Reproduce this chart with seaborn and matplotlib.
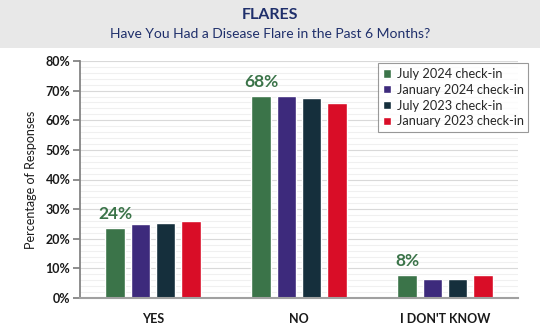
import matplotlib
matplotlib.use("Agg")
import matplotlib.pyplot as plt
import seaborn as sns
import pandas as pd
from matplotlib.patches import Rectangle
from matplotlib.ticker import MultipleLocator, FuncFormatter

categories = ["YES", "NO", "I DON'T KNOW"]
series = ["July 2024 check-in", "January 2024 check-in", "July 2023 check-in", "January 2023 check-in"]
jul2024 = [23.7, 68.2, 7.8]
jan2024 = [24.9, 68.2, 6.3]
jul2023 = [25.4, 67.6, 6.3]
jan2023 = [26.1, 65.8, 7.9]
labels = ["24%", "68%", "8%"]
colors = ["#3b7449", "#3d2a7c", "#152f3c", "#d90d27"]

rows = []
for s, vals in zip(series, [jul2024, jan2024, jul2023, jan2023]):
    for c, v in zip(categories, vals):
        rows.append({"cat": c, "series": s, "val": v})
df = pd.DataFrame(rows)

sns.set_theme(style="white")
plt.rcParams["font.family"] = ["Lato", "DejaVu Sans"]

fig = plt.figure(figsize=(5.4, 3.31), dpi=100)
fig.patch.set_facecolor("white")
fig.patches.append(Rectangle((0, 1 - 48 / 331), 1, 48 / 331, transform=fig.transFigure,
                             facecolor="#e8e8e8", edgecolor="none", zorder=0))
ax = fig.add_axes([80 / 540, 1 - 298 / 331, 438 / 540, 237 / 331])

sns.barplot(data=df, x="cat", y="val", hue="series", hue_order=series, order=categories,
            palette=colors, width=0.69, gap=0.22, ax=ax, saturation=1, legend=True)

ax.set_ylim(0, 80)
ax.set_xlim(-0.5, 2.5)
ax.yaxis.set_major_locator(MultipleLocator(10))
ax.yaxis.set_minor_locator(MultipleLocator(2))
ax.yaxis.set_major_formatter(FuncFormatter(lambda v, p: f"{int(v)}%"))
ax.grid(axis="y", which="major", color="#d9d9d9", linewidth=0.8)
ax.grid(axis="y", which="minor", color="#f0f0f0", linewidth=0.8)
ax.set_axisbelow(True)
for side in ["top", "right"]:
    ax.spines[side].set_visible(False)
ax.spines["left"].set_color("#808080")
ax.spines["bottom"].set_color("#a0a0a0")
ax.spines["bottom"].set_linewidth(1.5)
ax.tick_params(axis="y", which="major", left=True, length=5, color="#808080", labelsize=9, pad=2)
ax.tick_params(axis="y", which="minor", left=False)
ax.tick_params(axis="x", bottom=False, labelsize=9, pad=5)
for t in ax.get_yticklabels() + ax.get_xticklabels():
    t.set_fontweight("bold")
    t.set_color("#1a1a1a")
ax.set_xlabel("")
ax.set_ylabel("Percentage of Responses", fontsize=9, color="#1a1a1a", labelpad=6)

green_bars = ax.containers[0]
for bar, lab in zip(green_bars, labels):
    ax.annotate(lab, (bar.get_x() + bar.get_width() / 2, bar.get_height()),
                xytext=(0, 4), textcoords="offset points", ha="center", va="bottom",
                fontsize=12.5, fontweight="bold", color="#3b7449")

leg = ax.legend(loc="upper right", bbox_to_anchor=(1.023, 0.99), fontsize=9.2, frameon=True,
                fancybox=False, edgecolor="#808080", handlelength=0.65, handleheight=0.65,
                handletextpad=0.45, borderpad=0.35, labelspacing=0.3, borderaxespad=0)
leg.get_frame().set_linewidth(0.8)

fig.text(0.5, 1 - 15 / 331, "FLARES", ha="center", va="center", fontsize=11.5,
         fontweight="bold", color="#1f2f6b")
fig.text(0.5, 1 - 34 / 331, "Have You Had a Disease Flare in the Past 6 Months?", ha="center",
         va="center", fontsize=10, color="#1f2f6b")

fig.savefig("out.png", dpi=100)
